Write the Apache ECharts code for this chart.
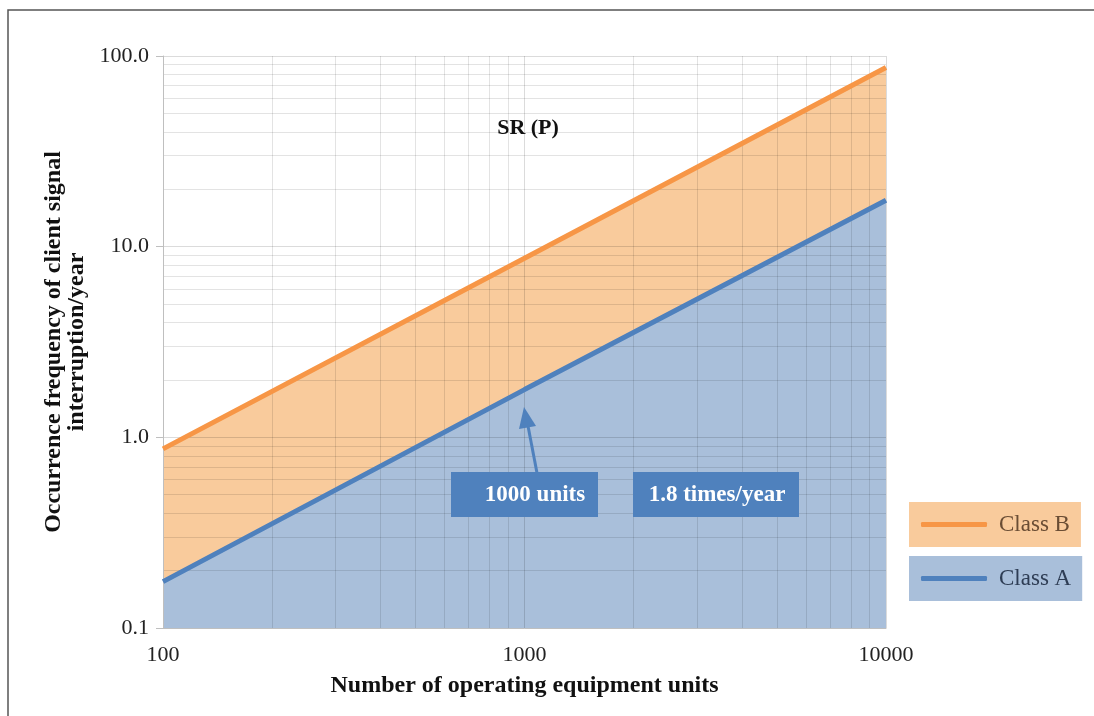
<!DOCTYPE html>
<html>
<head>
<meta charset="utf-8">
<script src="https://cdn.jsdelivr.net/npm/echarts@6/dist/echarts.min.js"></script>
<style>
html,body{margin:0;padding:0;background:#fff;}
#chart{width:1094px;height:716px;}
</style>
</head>
<body>
<div id="chart"></div>
<script>
// ---- data ----
const units = [100, 1000, 10000];
const classA = [0.175, 1.78, 17.5];
const classB = [0.87, 8.7, 87];
const seriesNames = ['Class A', 'Class B'];
const yMinorTicks = [0.2,0.3,0.4,0.5,0.6,0.7,0.8,0.9,2,3,4,5,6,7,8,9,20,30,40,50,60,70,80,90];
const xMinorTicks = [200,300,400,500,600,700,800,900,2000,3000,4000,5000,6000,7000,8000,9000];
const titleText = 'SR (P)';
const annotUnits = '1000 units';
const annotRate = '1.8 times/year';
const xTitle = 'Number of operating equipment units';
const yTitle = 'Occurrence frequency of client signal\ninterruption/year';

const FONT = '"Liberation Serif", "DejaVu Serif", serif';
const ORANGE = '#F79646';
const BLUE = '#4F81BD';
const GRIDC = 'rgba(0,0,0,0.11)';
const GRIDMAJ = 'rgba(0,0,0,0.14)';

const chart = echarts.init(document.getElementById('chart'), null, {renderer: 'canvas'});

const dataA = units.map((u, i) => [u, classA[i]]);
const dataB = units.map((u, i) => [u, classB[i]]);

const option = {
  backgroundColor: '#fff',
  animation: false,
  grid: {left: 163, right: 208, top: 56, bottom: 88},
  xAxis: {
    type: 'log', logBase: 10, min: 100, max: 10000, z: 5,
    name: xTitle, nameLocation: 'middle', nameGap: 46,
    nameTextStyle: {fontFamily: FONT, fontWeight: 'bold', fontSize: 24, color: '#111'},
    axisLine: {show: true, lineStyle: {color: '#bfbfbf', width: 1}},
    axisTick: {show: false},
    axisLabel: {fontFamily: FONT, fontSize: 22, color: '#222', margin: 16, formatter: v => String(Math.round(v))},
    splitLine: {show: true, lineStyle: {color: GRIDMAJ, width: 1}}
  },
  yAxis: {
    type: 'log', logBase: 10, min: 0.1, max: 100, z: 5,
    name: yTitle, nameLocation: 'middle', nameGap: 74, nameRotate: 90,
    nameTextStyle: {fontFamily: FONT, fontWeight: 'bold', fontSize: 24, color: '#111', lineHeight: 23, align: 'center'},
    axisLine: {show: true, lineStyle: {color: '#bfbfbf', width: 1}},
    axisTick: {show: true, length: 7, lineStyle: {color: '#bfbfbf'}},
    axisLabel: {fontFamily: FONT, fontSize: 22, color: '#222', margin: 14, formatter: v => v.toFixed(1)},
    splitLine: {show: true, lineStyle: {color: GRIDMAJ, width: 1}}
  },
  series: [
    {
      name: 'Class B fill', type: 'line', z: 1, silent: true,
      data: dataB, showSymbol: false, symbol: 'none',
      lineStyle: {width: 0, opacity: 0},
      areaStyle: {color: '#F9CB9C', opacity: 1}
    },
    {
      name: 'Class A fill', type: 'line', z: 1.5, silent: true,
      data: dataA, showSymbol: false, symbol: 'none',
      lineStyle: {width: 0, opacity: 0},
      areaStyle: {color: '#A9BFDA', opacity: 1}
    },
    {
      name: 'minor-grid', type: 'line', z: 6, silent: true,
      data: [[units[0], 0.1], [units[units.length-1], 0.1]],
      showSymbol: false, symbol: 'none', lineStyle: {width: 0, opacity: 0},
      markLine: {
        silent: true, symbol: ['none', 'none'], animation: false,
        label: {show: false},
        lineStyle: {color: GRIDC, width: 1, type: 'solid'},
        data: yMinorTicks.map(v => ({yAxis: v})).concat(xMinorTicks.map(v => ({xAxis: v})))
      }
    },
    {
      name: seriesNames[1], type: 'line', z: 10,
      data: dataB, showSymbol: false, symbol: 'none',
      itemStyle: {color: ORANGE},
      lineStyle: {color: ORANGE, width: 5}
    },
    {
      name: seriesNames[0], type: 'line', z: 10,
      data: dataA, showSymbol: false, symbol: 'none',
      itemStyle: {color: BLUE},
      lineStyle: {color: BLUE, width: 5}
    }
  ],
  legend: [
    {
      data: [seriesNames[1]], left: 909, top: 502, orient: 'vertical',
      backgroundColor: '#F9CB9C', padding: [11, 11, 11, 12],
      icon: 'roundRect', itemWidth: 66, itemHeight: 5, selectedMode: false,
      textStyle: {fontFamily: FONT, fontSize: 23, color: '#6a4d34', padding: [0, 0, 0, 7]}
    },
    {
      data: [seriesNames[0]], left: 909, top: 556, orient: 'vertical',
      backgroundColor: '#A9BFDA', padding: [11, 11, 11, 12],
      icon: 'roundRect', itemWidth: 66, itemHeight: 5, selectedMode: false,
      textStyle: {fontFamily: FONT, fontSize: 23, color: '#2e3d54', padding: [0, 0, 0, 7]}
    }
  ],
  graphic: [
    {type: 'rect', shape: {x: 8, y: 10, width: 1200, height: 800}, style: {fill: 'none', stroke: '#555', lineWidth: 1.5}, z: 100, silent: true},
    {type: 'text', x: 528, y: 128, style: {text: titleText, font: 'bold 22px ' + FONT, fill: '#111', textAlign: 'center', textVerticalAlign: 'middle'}, z: 50},
    {type: 'line', shape: {x1: 537, y1: 473, x2: 528, y2: 426}, style: {stroke: BLUE, lineWidth: 3}, z: 50},
    {type: 'polygon', shape: {points: [[524, 407], [536, 426], [519, 429]]}, style: {fill: BLUE}, z: 50},
    {type: 'rect', shape: {x: 451, y: 472, width: 147, height: 45}, style: {fill: BLUE}, z: 50},
    {type: 'text', x: 535, y: 495, style: {text: annotUnits, font: 'bold 23px ' + FONT, fill: '#fff', textAlign: 'center', textVerticalAlign: 'middle'}, z: 51},
    {type: 'rect', shape: {x: 633, y: 472, width: 166, height: 45}, style: {fill: BLUE}, z: 50},
    {type: 'text', x: 717, y: 495, style: {text: annotRate, font: 'bold 23px ' + FONT, fill: '#fff', textAlign: 'center', textVerticalAlign: 'middle'}, z: 51}
  ]
};
chart.setOption(option);
</script>
</body>
</html>
